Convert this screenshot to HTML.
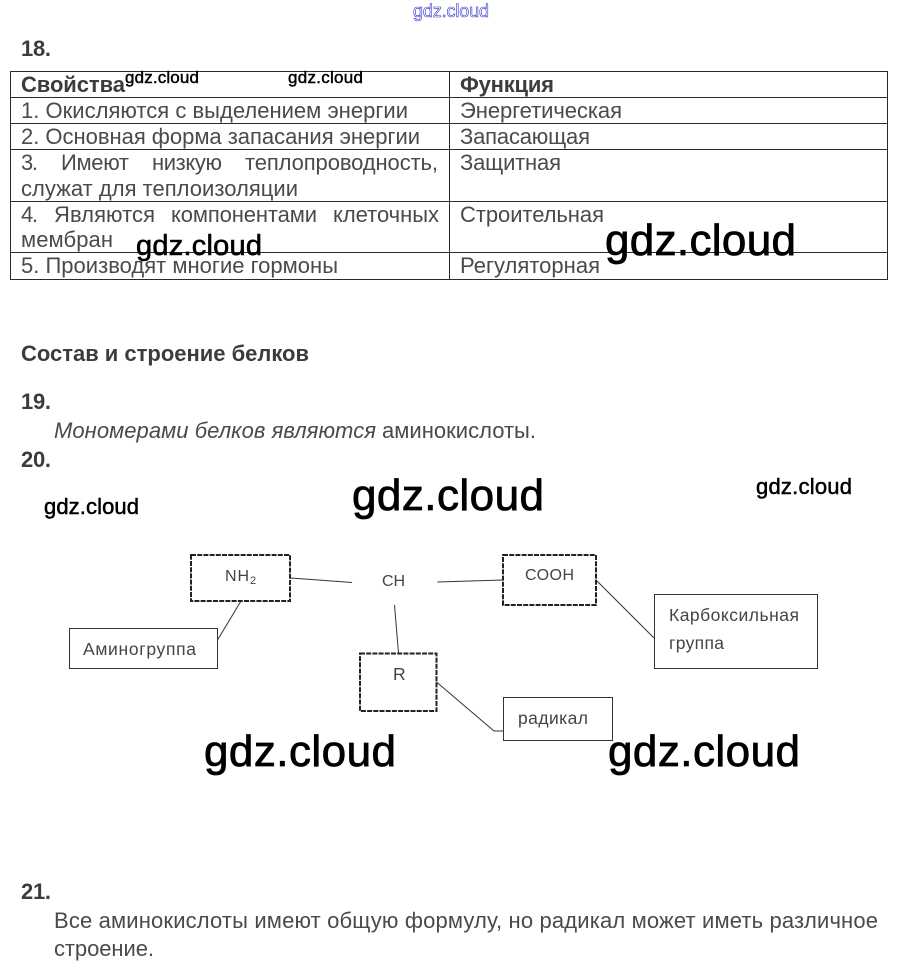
<!DOCTYPE html>
<html lang="ru">
<head>
<meta charset="utf-8">
<title>Состав и строение белков</title>
<style>
html,body{margin:0;padding:0;background:#fff;width:902px;height:972px;overflow:hidden}
svg{display:block}
text{font-family:"Liberation Sans",sans-serif;white-space:pre}
.t{font-size:22px;fill:#4a4a4a}
.b{font-size:22px;font-weight:bold;fill:#3c3c3c}
.d{font-size:17.5px;fill:#444}
.n{font-size:16px;fill:#444}
.w{fill:#000;stroke:#000}
.tl{stroke:#2a2a2a;stroke-width:1;fill:none}
.c{stroke:#333;stroke-width:1;fill:none}
.box{fill:#fff;stroke:#333;stroke-width:1}
.dash{fill:#fff;stroke:#222;stroke-width:2;stroke-dasharray:5 1.2}
</style>
</head>
<body>
<svg width="902" height="972" viewBox="0 0 902 972" xmlns="http://www.w3.org/2000/svg">
<rect width="902" height="972" fill="#fff"/>

<text x="413" y="17" font-size="18" fill="#fff" stroke="#3030d0" stroke-width=".6" textLength="76" lengthAdjust="spacing">gdz.cloud</text>

<text class="b" x="21" y="56" textLength="30">18.</text>

<rect class="tl" x="10.5" y="71.5" width="877" height="208"/>
<path class="tl" d="M449.5 71V279M10.5 97.5H887.5M10.5 123.5H887.5M10.5 149.5H887.5M10.5 201.5H887.5M10.5 252.5H887.5"/>

<text class="b" x="21" y="92" textLength="104">Свойства</text>
<text class="b" x="460" y="92" textLength="94">Функция</text>
<text class="t" x="21" y="118" textLength="387">1. Окисляются с выделением энергии</text>
<text class="t" x="460" y="118" textLength="162">Энергетическая</text>
<text class="t" x="21" y="144" textLength="399">2. Основная форма запасания энергии</text>
<text class="t" x="460" y="144" textLength="130">Запасающая</text>
<text class="t" x="21" y="170" textLength="17">3.</text>
<text class="t" x="61" y="170" textLength="68">Имеют</text>
<text class="t" x="152" y="170" textLength="70">низкую</text>
<text class="t" x="245" y="170" textLength="193">теплопроводность,</text>
<text class="t" x="460" y="170" textLength="101">Защитная</text>
<text class="t" x="21" y="196" textLength="277">служат для теплоизоляции</text>
<text class="t" x="21" y="222" textLength="17">4.</text>
<text class="t" x="54" y="222" textLength="101">Являются</text>
<text class="t" x="171" y="222" textLength="146">компонентами</text>
<text class="t" x="333" y="222" textLength="106">клеточных</text>
<text class="t" x="460" y="222" textLength="144">Строительная</text>
<text class="t" x="21" y="247" textLength="92">мембран</text>
<text class="t" x="21" y="273" textLength="317">5. Производят многие гормоны</text>
<text class="t" x="460" y="273" textLength="140">Регуляторная</text>

<text class="b" x="21" y="361" textLength="288">Состав и строение белков</text>
<text class="b" x="21" y="409" textLength="30">19.</text>
<text class="t" x="54" y="438" font-style="italic" textLength="322">Мономерами белков являются</text>
<text class="t" x="382" y="438" textLength="154">аминокислоты.</text>
<text class="b" x="21" y="467" textLength="30">20.</text>

<!-- connectors -->
<path class="c" d="M291 578L352 582.5M394.5 605L398.5 653M241 601L217.5 640M437.5 582L503 580M597 581L654 638M436.5 682L494 731H503"/>

<!-- dashed boxes -->
<rect class="dash" x="191" y="555" width="99" height="46"/>
<rect class="dash" x="360" y="653.5" width="76.5" height="57.5"/>
<rect class="dash" x="503" y="555" width="93" height="50"/>

<!-- label boxes -->
<rect class="box" x="69.5" y="628.5" width="148" height="40"/>
<rect class="box" x="654.5" y="594.5" width="163" height="74"/>
<rect class="box" x="503.5" y="697.5" width="109" height="43"/>

<!-- diagram text -->
<text class="n" x="225" y="581" textLength="24">NH</text>
<text class="n" x="250" y="584" style="font-size:11px">2</text>
<text class="n" x="382" y="586" textLength="23">CH</text>
<text class="n" x="525" y="580" textLength="49">СООН</text>
<text class="d" x="393" y="680" textLength="10">R</text>
<text class="d" x="83" y="655" textLength="113">Аминогруппа</text>
<text class="d" x="669" y="621" textLength="130">Карбоксильная</text>
<text class="d" x="669" y="649" textLength="55">группа</text>
<text class="d" x="518" y="724" textLength="70">радикал</text>

<text class="b" x="21" y="899" textLength="30">21.</text>
<text class="t" x="54" y="928" textLength="824">Все аминокислоты имеют общую формулу, но радикал может иметь различное</text>
<text class="t" x="54" y="956" textLength="100">строение.</text>

<!-- watermarks -->
<text class="w" x="125" y="83" font-size="17" stroke-width=".45" textLength="74">gdz.cloud</text>
<text class="w" x="288" y="83" font-size="17" stroke-width=".45" textLength="75">gdz.cloud</text>
<text class="w" x="136" y="255" font-size="29" stroke-width=".6" textLength="126">gdz.cloud</text>
<text class="w" x="605" y="255" font-size="44" stroke-width=".8" textLength="191">gdz.cloud</text>
<text class="w" x="44" y="514" font-size="22" stroke-width=".5" textLength="95">gdz.cloud</text>
<text class="w" x="352" y="510" font-size="44" stroke-width=".8" textLength="192">gdz.cloud</text>
<text class="w" x="756" y="494" font-size="22" stroke-width=".5" textLength="96">gdz.cloud</text>
<text class="w" x="204" y="766" font-size="44" stroke-width=".8" textLength="192">gdz.cloud</text>
<text class="w" x="608" y="766" font-size="44" stroke-width=".8" textLength="192">gdz.cloud</text>
</svg>
</body>
</html>
